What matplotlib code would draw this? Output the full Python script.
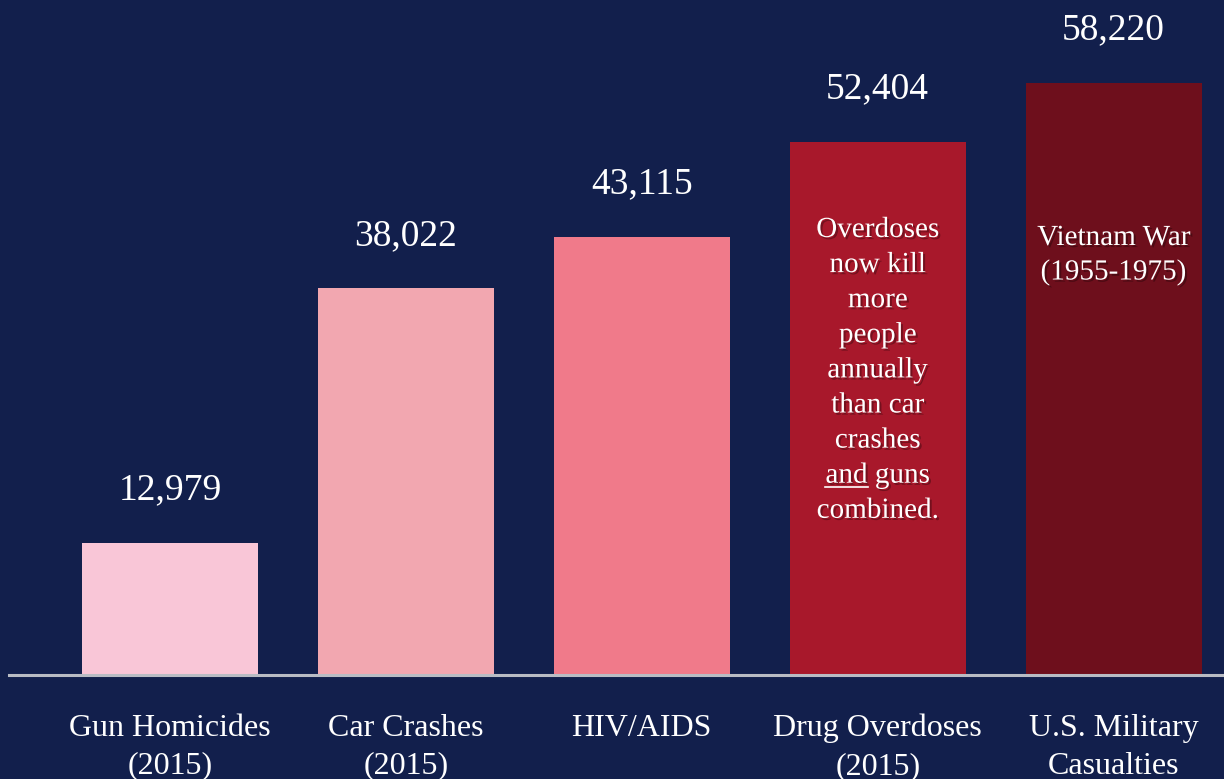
import matplotlib.pyplot as plt
import matplotlib.patheffects as pe
from matplotlib.lines import Line2D
from matplotlib import transforms

categories = [
    "Gun Homicides\n(2015)",
    "Car Crashes\n(2015)",
    "HIV/AIDS",
    "Drug Overdoses\n(2015)",
    "U.S. Military\nCasualties",
]
deaths = [12979, 38022, 43115, 52404, 58220]
bar_colors = ["#f9c6d7", "#f2a7b0", "#f07a8a", "#a8182b", "#6e0f1c"]
overdose_note = [
    "Overdoses", "now kill", "more", "people", "annually",
    "than car", "crashes", "and guns", "combined.",
]
vietnam_note = ["Vietnam War", "(1955-1975)"]

BG = "#121f4c"
W, H = 1224, 779
plt.rcParams["font.family"] = ["Liberation Serif", "DejaVu Serif"]

fig = plt.figure(figsize=(W / 100, H / 100), dpi=100, facecolor=BG)
ax = fig.add_axes([9 / W, 104 / H, 1 - 9 / W, 1 - 104 / H])
ax.set_facecolor(BG)

x = list(range(len(deaths)))
ax.bar(x, deaths, width=0.746, color=bar_colors, zorder=2)
ax.set_xlim(-0.6825, 4.468)
ax.set_ylim(0, 58220 * 675 / 592)

for xi, v in zip(x, deaths):
    ax.annotate(f"{v:,}", xy=(xi, v), xytext=(0, 38), textcoords="offset points",
                ha="center", va="center", fontsize=27, color="white")

for side in ["top", "right", "left"]:
    ax.spines[side].set_visible(False)
ax.spines["bottom"].set_color("#b9bcc4")
ax.spines["bottom"].set_linewidth(2.2)
ax.set_yticks([])
ax.set_xticks(x)
ax.set_xticklabels(categories, fontsize=23, color="white", linespacing=1.4)
ax.tick_params(axis="x", length=0, pad=28)

shadow = [pe.SimplePatchShadow(offset=(1.5, -1.5), shadow_rgbFace="black", alpha=0.3),
          pe.Normal()]
blend = transforms.blended_transform_factory(ax.transData, fig.transFigure)


def note(xi, lines, first_baseline, step):
    texts = []
    for i, line in enumerate(lines):
        y = 1 - (first_baseline + i * step) / H
        t = ax.text(xi, y, line, transform=blend, ha="center", va="baseline",
                    fontsize=21, color="white", path_effects=shadow, zorder=3)
        texts.append(t)
    return texts


od_texts = note(3, overdose_note, 237, 35.1)
note(4, vietnam_note, 245, 34.5)

# underline "and" in the overdose note
fig.canvas.draw()
renderer = fig.canvas.get_renderer()
line_t = od_texts[7]
bb = line_t.get_window_extent(renderer)
probe = ax.text(0, 0, "and", fontsize=21)
w_and = probe.get_window_extent(renderer).width
probe.remove()
base_y = line_t.get_transform().transform(line_t.get_position())[1]
uy = (base_y - 4) / H
fig.add_artist(Line2D([bb.x0 / W, (bb.x0 + w_and) / W], [uy, uy],
                      transform=fig.transFigure, color="white", linewidth=1.2))

fig.savefig("out.png", dpi=100, facecolor=BG)
